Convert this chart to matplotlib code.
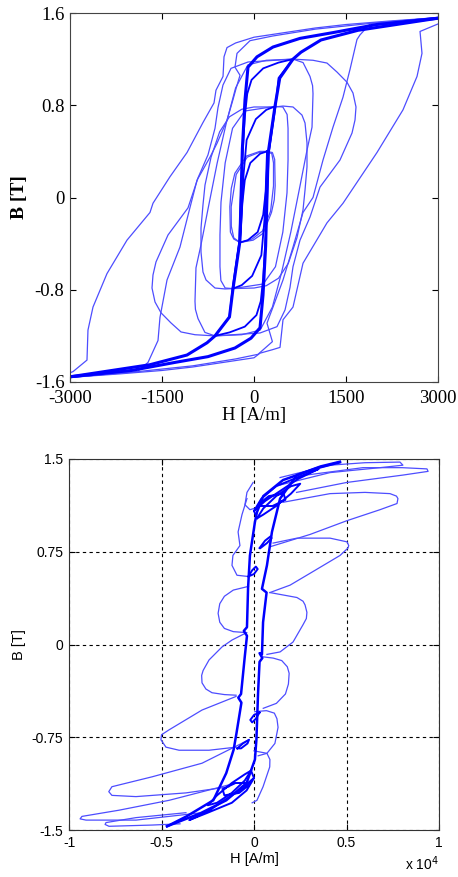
import matplotlib
matplotlib.use("Agg")
import matplotlib.pyplot as plt

plt.rcParams['axes.unicode_minus'] = False

# ---------------- top chart: B-H loops (H in A/m, B in T) ----------------
outer_H = [3000, 2200, 1500, 1000, 500, 0, -300, -440, -489, -505, -620, -652, -832, -1092, -1370,
           -1647, -1696, -2071, -2397, -2625, -2707, -2723, -2951, -3000]
outer_B = [1.56, 1.53, 1.50, 1.47, 1.43, 1.39, 1.34, 1.30, 1.22, 1.05, 0.93, 0.82, 0.65, 0.39, 0.18,
           -0.05, -0.13, -0.37, -0.66, -0.95, -1.15, -1.41, -1.51, -1.52]
outer2_H = [-3000, -2200, -1500, -1000, -500, 0, 98, 300, 424, 473, 636, 799, 1190, 1451, 2005,
            2429, 2658, 2739, 2707, 3000]
outer2_B = [-1.56, -1.53, -1.50, -1.47, -1.43, -1.39, -1.35, -1.32, -1.30, -1.06, -0.95, -0.57,
            -0.22, -0.05, 0.39, 0.76, 1.05, 1.25, 1.44, 1.505]

loop2_H = [3000, 1900, 1000, 300, -65, -277, -310, -228, -290, -342, -440, -603, -717, -929, -1050,
           -1207, -1418, -1533, -1565, -1728, -1900, -3000]
loop2_B = [1.56, 1.51, 1.46, 1.40, 1.36, 1.25, 1.13, 1.06, 0.95, 0.85, 0.67, 0.47, 0.35, 0.15, -0.1,
           -0.43, -0.715, -1.04, -1.24, -1.43, -1.51, -1.56]
loop2b_H = [-3000, -1900, -1000, -300, 65, 300, 212, 260, 310, 473, 636, 799, 962, 1125, 1288,
            1451, 1565, 1679, 1728, 1900, 3000]
loop2b_B = [-1.56, -1.51, -1.46, -1.40, -1.36, -1.25, -1.09, -1.02, -0.95, -0.715, -0.43, -0.13,
            0.0, 0.325, 0.61, 0.87, 1.11, 1.37, 1.41, 1.51, 1.56]

asc_H = [-3000, -2000, -1288, -750, -310, -49, 98, 147, 190, 231, 342, 420, 636, 766, 1092, 1696, 3000]
asc_B = [-1.555, -1.50, -1.43, -1.38, -1.305, -1.22, -1.13, -0.846, -0.42, 0.386, 0.79, 1.036, 1.2,
         1.26, 1.366, 1.45, 1.555]
desc_H = [3000, 2000, 1288, 750, 310, 49, -98, -147, -190, -231, -342, -400, -636, -766, -1092, -1696, -3000]
desc_B = [1.555, 1.50, 1.43, 1.38, 1.305, 1.22, 1.13, 0.846, 0.42, -0.386, -0.79, -1.036, -1.2,
          -1.26, -1.366, -1.45, -1.555]

m12_H = [636, 400, 150, -40, -110, -150, -195, -240, -350, -400, -636, -400, -150, 40, 110, 150,
         195, 240, 350, 400, 636]
m12_B = [1.2, 1.17, 1.12, 1.02, 0.9, 0.7, 0.3, -0.386, -0.79, -1.036, -1.2, -1.17, -1.12, -1.02,
         -0.9, -0.7, -0.3, 0.386, 0.79, 1.036, 1.2]
m08_H = [342, 200, 30, -120, -170, -215, -342, -200, -30, 120, 170, 215, 342]
m08_B = [0.79, 0.76, 0.68, 0.5, 0.2, -0.3, -0.79, -0.76, -0.68, -0.5, -0.2, 0.3, 0.79]
m04_H = [212, 100, -60, -150, -190, -228, -100, 60, 150, 190, 212]
m04_B = [0.40, 0.38, 0.30, 0.15, -0.05, -0.39, -0.37, -0.30, -0.15, 0.05, 0.40]

r12a_H = [636, 962, 1190, 1353, 1516, 1614, 1663, 1647, 1598, 1402, 1076, 913, 750, 636, 587, 506,
          375, 98, -342, -636, -962, -1190, -1353, -1516, -1614, -1663, -1647, -1598, -1402, -1076,
          -913, -750, -636, -587, -506, -375, -98, 342, 636]
r12a_B = [1.2, 1.19, 1.166, 1.088, 1.0, 0.906, 0.785, 0.672, 0.559, 0.325, 0.09, -0.17, -0.37, -0.6,
          -0.78, -0.975, -1.12, -1.175, -1.19, -1.2, -1.19, -1.166, -1.088, -1.0, -0.906, -0.785,
          -0.672, -0.559, -0.325, -0.09, 0.17, 0.37, 0.6, 0.78, 0.975, 1.12, 1.175, 1.19, 1.2]
r12b_H = [636, 800, 913, 955, 962, 946, 864, 750, 600, 450, 300, 100, -200, -636, -800, -913, -955,
          -962, -946, -864, -750, -600, -450, -300, -100, 200, 636]
r12b_B = [1.2, 1.17, 1.05, 0.97, 0.9, 0.61, 0.41, 0.1, -0.3, -0.65, -0.95, -1.15, -1.19, -1.2,
          -1.17, -1.05, -0.97, -0.9, -0.61, -0.41, -0.1, 0.3, 0.65, 0.95, 1.15, 1.19, 1.2]
r08a_H = [342, 473, 636, 782, 832, 864, 864, 832, 799, 700, 560, 400, 200, 0, -342, -473, -636,
          -782, -832, -864, -864, -832, -799, -700, -560, -400, -200, 0, 342]
r08a_B = [0.785, 0.793, 0.785, 0.715, 0.646, 0.473, 0.265, 0.065, -0.108, -0.35, -0.57, -0.7,
          -0.765, -0.785, -0.79, -0.793, -0.785, -0.715, -0.646, -0.473, -0.265, -0.065, 0.108,
          0.35, 0.57, 0.7, 0.765, 0.785, 0.785]
r08b_H = [342, 470, 540, 555, 555, 538, 470, 350, 150, -342, -470, -540, -555, -555, -538, -470,
          -350, -150, 342]
r08b_B = [0.79, 0.785, 0.72, 0.6, 0.325, 0.04, -0.3, -0.6, -0.75, -0.79, -0.785, -0.72, -0.6,
          -0.325, -0.04, 0.3, 0.6, 0.75, 0.79]
r04_H = [212, 300, 337, 345, 330, 285, 150, -14, -228, -330, -385, -394, -370, -312, -122, 95, 212]
r04_B = [0.40, 0.39, 0.33, 0.10, -0.02, -0.13, -0.31, -0.37, -0.39, -0.36, -0.30, -0.08, 0.08,
         0.21, 0.36, 0.40, 0.40]
r04b_H = [212, 290, 318, 318, 270, 140, -30, -228, -330, -370, -372, -290, -110, 80, 212]
r04b_B = [0.40, 0.38, 0.30, 0.10, -0.12, -0.29, -0.36, -0.39, -0.35, -0.25, -0.08, 0.20, 0.35, 0.39, 0.40]

# ---------------- bottom chart (H in 10^4 A/m, B in T) ----------------
s_desc_H = [0.464, 0.338, 0.157, 0.05, 0.016, 0.005, -0.022, -0.032, -0.035, -0.038, -0.055,
            -0.038, -0.05, -0.06, -0.07, -0.085, -0.068, -0.095, -0.11, -0.15, -0.22, -0.365, -0.47]
s_desc_B = [1.473, 1.425, 1.33, 1.20, 1.07, 0.99, 0.72, 0.46, 0.30, 0.14, 0.11, 0.07, -0.1,
            -0.25, -0.4, -0.43, -0.47, -0.72, -0.85, -1.04, -1.26, -1.39, -1.47]
s_asc_H = [-0.47, -0.29, -0.15, -0.04, 0.005, 0.013, 0.022, 0.03, 0.045, 0.03, 0.043, 0.049,
           0.068, 0.043, 0.07, 0.097, 0.141, 0.232, 0.36, 0.465]
s_asc_B = [-1.47, -1.365, -1.26, -1.12, -0.93, -0.77, -0.39, -0.14, -0.11, -0.07, -0.08, 0.18,
           0.42, 0.45, 0.64, 0.91, 1.18, 1.37, 1.44, 1.478]

lobe_r1_H = [0.141, 0.411, 0.60, 0.789, 0.805, 0.681, 0.411, 0.141]
lobe_r1_B = [1.35, 1.45, 1.47, 1.475, 1.45, 1.43, 1.39, 1.29]
lobe_r2_H = [0.23, 0.589, 0.80, 0.935, 0.941, 0.805, 0.5, 0.23]
lobe_r2_B = [1.36, 1.43, 1.43, 1.42, 1.40, 1.37, 1.31, 1.23]
lobe_r3_H = [0.157, 0.411, 0.60, 0.735, 0.770, 0.778, 0.773, 0.681, 0.5, 0.303, 0.086]
lobe_r3_B = [1.15, 1.22, 1.23, 1.22, 1.20, 1.18, 1.14, 1.09, 1.0, 0.89, 0.79]
lobe_r4_H = [0.103, 0.232, 0.411, 0.503, 0.512, 0.508, 0.465, 0.319, 0.195, 0.086]
lobe_r4_B = [0.82, 0.86, 0.86, 0.83, 0.80, 0.78, 0.72, 0.59, 0.48, 0.42]
lobe_r5_H = [0.086, 0.232, 0.265, 0.276, 0.286, 0.283, 0.265, 0.211, 0.141, 0.07]
lobe_r5_B = [0.42, 0.38, 0.35, 0.32, 0.26, 0.21, 0.16, 0.02, -0.06, -0.08]
lobe_r6_H = [0.05, 0.104, 0.150, 0.180, 0.19, 0.186, 0.17, 0.121, 0.05]
lobe_r6_B = [-0.1, -0.11, -0.13, -0.18, -0.233, -0.32, -0.40, -0.476, -0.516]
lobe_r7_H = [0.0045, 0.0675, 0.11, 0.124, 0.13, 0.113, 0.07, 0.0225]
lobe_r7_B = [-0.543, -0.535, -0.555, -0.60, -0.67, -0.80, -0.88, -0.90]
lobe_r8_H = [0.0, 0.07, 0.086, 0.085, 0.049, 0.016, -0.01]
lobe_r8_B = [-0.86, -0.88, -0.93, -0.99, -1.15, -1.26, -1.28]

lobe_l0_H = [-0.005, -0.038, -0.049, -0.022, 0.0]
lobe_l0_B = [1.31, 1.23, 1.13, 1.09, 1.10]
lobe_l1_H = [-0.038, -0.065, -0.086, -0.076, -0.114, -0.119, -0.092, -0.032]
lobe_l1_B = [1.18, 1.05, 0.91, 0.80, 0.72, 0.64, 0.56, 0.55]
lobe_l2_H = [-0.03, -0.112, -0.160, -0.185, -0.194, -0.185, -0.160, -0.112, -0.04]
lobe_l2_B = [0.47, 0.44, 0.39, 0.33, 0.252, 0.18, 0.13, 0.104, 0.096]
lobe_l3_H = [-0.04, -0.119, -0.173, -0.243, -0.275, -0.283, -0.281, -0.26, -0.227, -0.16, -0.097]
lobe_l3_B = [0.096, 0.036, -0.02, -0.125, -0.21, -0.25, -0.31, -0.36, -0.39, -0.405, -0.41]
lobe_l4_H = [-0.097, -0.281, -0.459, -0.50, -0.503, -0.476, -0.405, -0.243, -0.097]
lobe_l4_B = [-0.42, -0.53, -0.69, -0.73, -0.77, -0.83, -0.855, -0.855, -0.83]
lobe_l5_H = [-0.027, -0.281, -0.551, -0.768, -0.785, -0.768, -0.638, -0.368, -0.135]
lobe_l5_B = [-0.77, -0.96, -1.07, -1.15, -1.19, -1.22, -1.23, -1.20, -1.15]
lobe_l6_H = [-0.097, -0.459, -0.730, -0.93, -0.94, -0.908, -0.638, -0.281]
lobe_l6_B = [-1.12, -1.26, -1.34, -1.39, -1.41, -1.42, -1.42, -1.36]
lobe_l7_H = [-0.368, -0.638, -0.80, -0.805, -0.784, -0.551, -0.40]
lobe_l7_B = [-1.36, -1.40, -1.44, -1.455, -1.47, -1.46, -1.45]

knot_top_H = [0.016, 0.05, 0.12, 0.2, 0.25, 0.2, 0.12, 0.05, 0.016, 0.0, 0.06, 0.14, 0.24, 0.35,
              0.25, 0.12, 0.04, 0.0, 0.03, 0.1, 0.17, 0.16, 0.08, 0.03]
knot_top_B = [1.02, 1.1, 1.2, 1.28, 1.3, 1.22, 1.12, 1.05, 1.02, 1.08, 1.16, 1.24, 1.34, 1.42,
              1.36, 1.28, 1.18, 1.08, 1.12, 1.12, 1.17, 1.22, 1.2, 1.14]
knot_bot_H = [-0.016, -0.05, -0.12, -0.2, -0.25, -0.2, -0.12, -0.05, -0.016, 0.0, -0.06, -0.14,
              -0.24, -0.35, -0.25, -0.12, -0.04, 0.0, -0.03, -0.1, -0.17, -0.16, -0.08, -0.03]
knot_bot_B = [-1.02, -1.1, -1.2, -1.28, -1.3, -1.22, -1.12, -1.05, -1.02, -1.08, -1.16, -1.24,
              -1.34, -1.42, -1.36, -1.28, -1.18, -1.08, -1.12, -1.12, -1.17, -1.22, -1.2, -1.14]
notch_a_H = [-0.03, -0.01, 0.01, 0.02, 0.0, -0.03]
notch_a_B = [0.55, 0.6, 0.63, 0.61, 0.57, 0.55]
notch_b_H = [0.03, 0.06, 0.09, 0.095, 0.07, 0.035]
notch_b_B = [0.78, 0.84, 0.875, 0.86, 0.82, 0.78]
notch_c_H = [0.03, 0.01, -0.01, -0.02, 0.0, 0.03]
notch_c_B = [-0.55, -0.6, -0.63, -0.61, -0.57, -0.55]
notch_d_H = [-0.09, -0.06, -0.027, -0.035, -0.07, -0.09]
notch_d_B = [-0.84, -0.80, -0.77, -0.80, -0.84, -0.84]

thin_c = (0.3, 0.3, 1.0)
thick_c = (0.0, 0.0, 1.0)

fig = plt.figure(figsize=(4.58, 8.77), dpi=100)

# ---- top ----
ax1 = fig.add_axes([70/458, 1-382/877, 368/458, 369/877])
for h, b in [(outer_H, outer_B), (outer2_H, outer2_B), (loop2_H, loop2_B), (loop2b_H, loop2b_B),
             (r12a_H, r12a_B), (r12b_H, r12b_B), (r08a_H, r08a_B), (r08b_H, r08b_B),
             (r04_H, r04_B), (r04b_H, r04b_B)]:
    ax1.plot(h, b, color=thin_c, lw=0.9)
for h, b in [(m12_H, m12_B), (m08_H, m08_B), (m04_H, m04_B)]:
    ax1.plot(h, b, color=thick_c, lw=1.3)
ax1.plot(asc_H, asc_B, color=thick_c, lw=2.2)
ax1.plot(desc_H, desc_B, color=thick_c, lw=2.2)
ax1.set_xlim(-3000, 3000)
ax1.set_ylim(-1.6, 1.6)
ax1.set_xticks([-3000, -1500, 0, 1500, 3000])
ax1.set_xticklabels(['-3000', '-1500', '0', '1500', '3000'])
ax1.set_yticks([-1.6, -0.8, 0, 0.8, 1.6])
ax1.set_yticklabels(['-1.6', '-0.8', '0', '0.8', '1.6'])
ax1.tick_params(direction='in', top=True, right=True, length=4, labelsize=13.5)
ax1.tick_params(axis='x', pad=6)
ax1.tick_params(axis='y', pad=4)
for t in ax1.get_xticklabels() + ax1.get_yticklabels():
    t.set_family('Liberation Serif')
ax1.set_xlabel('H [A/m]', fontsize=13.5, family='Liberation Serif', labelpad=0)
ax1.set_ylabel('B [T]', fontsize=14, family='Liberation Serif', fontweight='bold', labelpad=5)
for s in ax1.spines.values():
    s.set_color('#444444')

# ---- bottom ----
ax2 = fig.add_axes([69/458, 1-830/877, 370/458, 371/877])
for h, b in [(lobe_r1_H, lobe_r1_B), (lobe_r2_H, lobe_r2_B), (lobe_r3_H, lobe_r3_B),
             (lobe_r4_H, lobe_r4_B), (lobe_r5_H, lobe_r5_B), (lobe_r6_H, lobe_r6_B),
             (lobe_r7_H, lobe_r7_B), (lobe_r8_H, lobe_r8_B), (lobe_l0_H, lobe_l0_B),
             (lobe_l1_H, lobe_l1_B), (lobe_l2_H, lobe_l2_B), (lobe_l3_H, lobe_l3_B),
             (lobe_l4_H, lobe_l4_B), (lobe_l5_H, lobe_l5_B), (lobe_l6_H, lobe_l6_B),
             (lobe_l7_H, lobe_l7_B)]:
    ax2.plot(h, b, color=thin_c, lw=0.9)
for h, b in [(knot_top_H, knot_top_B), (knot_bot_H, knot_bot_B), (notch_a_H, notch_a_B),
             (notch_b_H, notch_b_B), (notch_c_H, notch_c_B), (notch_d_H, notch_d_B)]:
    ax2.plot(h, b, color=thick_c, lw=1.4)
ax2.plot(s_desc_H, s_desc_B, color=thick_c, lw=1.8)
ax2.plot(s_asc_H, s_asc_B, color=thick_c, lw=1.8)
ax2.set_xlim(-1, 1)
ax2.set_ylim(-1.5, 1.5)
ax2.set_xticks([-1, -0.5, 0, 0.5, 1])
ax2.set_xticklabels(['-1', '-0.5', '0', '0.5', '1'])
ax2.set_yticks([-1.5, -0.75, 0, 0.75, 1.5])
ax2.set_yticklabels(['-1.5', '-0.75', '0', '0.75', '1.5'])
ax2.grid(True, color='k', linestyle=(0, (3, 3)), lw=0.8)
ax2.tick_params(direction='in', top=True, right=True, length=4, labelsize=10, pad=4)
for t in ax2.get_xticklabels() + ax2.get_yticklabels():
    t.set_family('Liberation Sans')
ax2.set_xlabel('H [A/m]', fontsize=10.5, family='Liberation Sans', labelpad=2)
ax2.set_ylabel('B [T]', fontsize=10.5, family='Liberation Sans', labelpad=4)
ax2.text(1.0, -0.108, 'x 10$^4$', transform=ax2.transAxes, fontsize=10,
         family='Liberation Sans', ha='right', va='baseline')
for s in ax2.spines.values():
    s.set_color('#333333')

fig.savefig('out.png', dpi=100)
